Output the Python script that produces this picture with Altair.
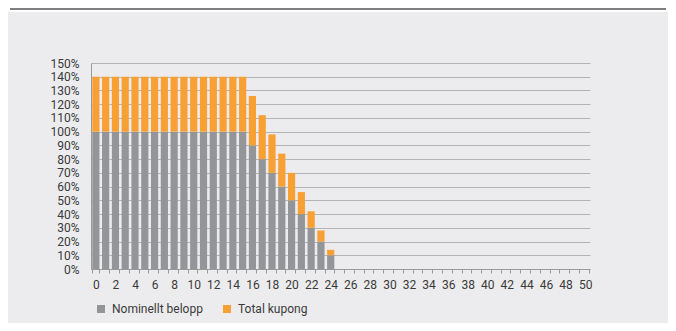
import altair as alt
import pandas as pd

periods = list(range(51))
nominal = [100, 100, 100, 100, 100, 100, 100, 100, 100, 100, 100, 100, 100, 100, 100, 100,
           90, 80, 70, 60, 50, 40, 30, 20, 10] + [0] * 26
coupon = [40, 40, 40, 40, 40, 40, 40, 40, 40, 40, 40, 40, 40, 40, 40, 40,
          36, 32, 28, 24, 20, 16, 12, 8, 4] + [0] * 26
series_names = ["Nominellt belopp", "Total kupong"]
series_colors = ["#939598", "#F8A033"]
y_ticks = [0, 0.1, 0.2, 0.3, 0.4, 0.5, 0.6, 0.7, 0.8, 0.9, 1.0, 1.1, 1.2, 1.3, 1.4, 1.5]

rows = []
for p, n, c in zip(periods, nominal, coupon):
    rows.append({"period": p, "series": series_names[0], "value": n / 100, "ord": 0})
    rows.append({"period": p, "series": series_names[1], "value": c / 100, "ord": 1})
df = pd.DataFrame(rows)

FONT = "Roboto"
TEXT = "#3a3a3a"
W, H = 499, 206
PL, PT, PR, PB = 83, 55, 78, 54

bars = alt.Chart(df).mark_bar().encode(
    x=alt.X(
        "period:O",
        scale=alt.Scale(paddingInner=0.265, paddingOuter=0.13),
        axis=alt.Axis(
            title=None, labelAngle=0, labelOverlap=False,
            labelExpr="datum.value % 2 == 0 ? datum.label : ''",
            tickBand="extent", tickSize=4, tickColor="#9a9a9a",
            domainColor="#9a9a9a", labelPadding=6, grid=False,
            labelFont=FONT, labelFontSize=12, labelColor=TEXT,
        ),
    ),
    y=alt.Y(
        "value:Q", stack="zero",
        scale=alt.Scale(domain=[0, 1.5]),
        axis=alt.Axis(
            title=None, values=y_ticks, format=".0%", tickSize=0,
            labelPadding=12, gridColor="#b4b4b4", domainColor="#9a9a9a",
            labelFont=FONT, labelFontSize=12, labelColor=TEXT,
        ),
    ),
    color=alt.Color(
        "series:N",
        scale=alt.Scale(domain=series_names, range=series_colors),
        legend=alt.Legend(
            title=None, orient="none", legendX=4, legendY=240,
            direction="horizontal", symbolType="square", symbolSize=64,
            symbolStrokeWidth=0, labelFont=FONT, labelFontSize=12,
            labelColor=TEXT, labelOffset=5, columnPadding=18, padding=0,
        ),
    ),
    order=alt.Order("ord:Q"),
)

deco = pd.DataFrame({"k": [0]})
white_strip = alt.Chart(deco).mark_rect(color="white").encode(
    x=alt.value(-PL), x2=alt.value(W + PR), y=alt.value(-PT), y2=alt.value(-PT + 4)
)
top_line = alt.Chart(deco).mark_rect(color="#7f7f7f").encode(
    x=alt.value(-PL + 2), x2=alt.value(W + PR - 2), y=alt.value(-PT), y2=alt.value(-PT + 2)
)

chart = alt.layer(bars, white_strip, top_line).properties(
    width=W, height=H,
    autosize=alt.AutoSizeParams(type="none"),
    padding={"left": PL, "top": PT, "right": PR, "bottom": PB},
    background="#ECECEE",
).configure_view(stroke=None)

chart.save("out.html", embed_options={"renderer": "svg", "actions": False})
